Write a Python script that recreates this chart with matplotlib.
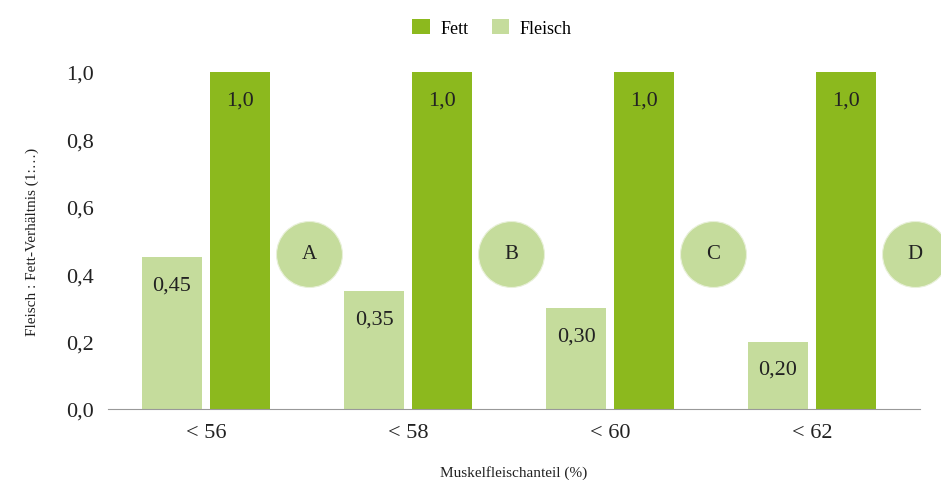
import numpy as np
import matplotlib
matplotlib.use('Agg')
import matplotlib.pyplot as plt

plt.rcParams['font.family'] = ['Liberation Serif', 'DejaVu Serif']

categories = ['< 56', '< 58', '< 60', '< 62']
fleisch = [0.45, 0.35, 0.30, 0.20]
fett = [1.0, 1.0, 1.0, 1.0]
circle_labels = ['A', 'B', 'C', 'D']

c_fett = '#8cb91e'
c_fleisch = '#c5dc9c'
txt = '#222222'

fig = plt.figure(figsize=(9.41, 4.81), dpi=100)
ax = fig.add_axes([0.1148, 0.1476, 0.8629, 0.7006])

x = np.arange(len(categories))
w = 0.297
ax.bar(x - 0.168, fleisch, w, color=c_fleisch, label='Fleisch')
ax.bar(x + 0.168, fett, w, color=c_fett, label='Fett')

def fmt(v):
    return ('%.2f' % v).replace('.', ',') if v < 1 else '1,0'

for i in range(len(x)):
    ax.annotate(fmt(fleisch[i]), (x[i] - 0.168, fleisch[i]), xytext=(0, -20),
                textcoords='offset points', ha='center', va='center', fontsize=16, color=txt)
    ax.annotate(fmt(fett[i]), (x[i] + 0.168, fett[i]), xytext=(0, -20),
                textcoords='offset points', ha='center', va='center', fontsize=16, color=txt)

# circles with letters
cy = 0.46
ax.scatter(x + 0.51, [cy] * len(x), s=2256, color=c_fleisch, edgecolors='#e8f0d8',
           linewidths=0.8, clip_on=False, zorder=3)
for i, lab in enumerate(circle_labels):
    ax.text(x[i] + 0.51, cy, lab, ha='center', va='center', fontsize=15, color=txt,
            zorder=4, clip_on=False)

ax.set_xlim(-0.485, 3.535)
ax.set_ylim(0, 1.0)
ax.set_yticks([0, 0.2, 0.4, 0.6, 0.8, 1.0])
ax.set_yticklabels(['0,0', '0,2', '0,4', '0,6', '0,8', '1,0'], fontsize=16, color=txt)
ax.set_xticks(x)
ax.set_xticklabels(categories, fontsize=16, color=txt)
ax.tick_params(axis='both', length=0)
ax.tick_params(axis='y', pad=10)
ax.tick_params(axis='x', pad=10)

for s in ['top', 'right', 'left']:
    ax.spines[s].set_visible(False)
ax.spines['bottom'].set_color('#999999')

ax.set_xlabel('Muskelfleischanteil (%)', fontsize=11, color=txt, labelpad=17)
ax.set_ylabel('Fleisch : Fett-Verhältnis (1:…)', fontsize=11, color=txt, labelpad=20)

handles, labels = ax.get_legend_handles_labels()
fig.legend(handles[::-1], labels[::-1], loc='center', bbox_to_anchor=(0.523, 0.94),
           ncol=2, frameon=False, fontsize=13, handlelength=0.95, handleheight=0.95,
           columnspacing=1.3, handletextpad=0.6)

fig.savefig('out.png', dpi=100)
